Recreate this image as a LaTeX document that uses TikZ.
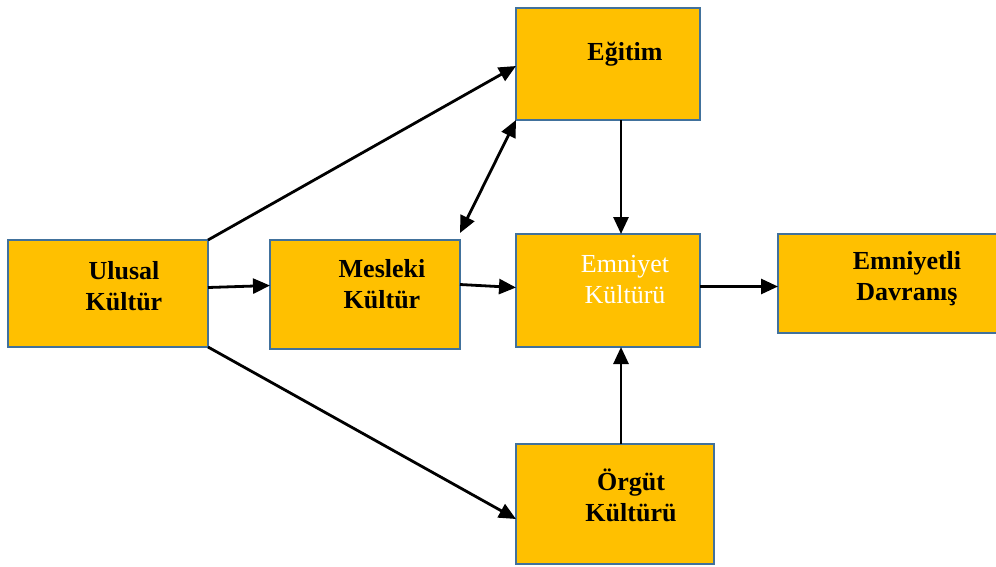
\documentclass[tikz,border=0pt]{standalone}
\usepackage{fontspec}
\setmainfont{Liberation Serif}
\usetikzlibrary{arrows.meta}
\definecolor{boxfill}{HTML}{FFC000}
\definecolor{boxedge}{HTML}{41719C}
\tikzset{
  box/.style={draw=boxedge, fill=boxfill, line width=2pt, rectangle,
    inner sep=0pt, outer sep=0pt, anchor=north west},
  lbl/.style={align=center, font=\fontsize{26}{31}\selectfont\bfseries, inner sep=0pt},
  lblw/.style={align=center, font=\fontsize{26}{31}\selectfont, text=white, inner sep=0pt},
  tip/.style={Triangle[length=17pt,width=15pt]},
  link/.style={line width=2.8pt, -{Triangle[length=17pt,width=15pt]}},
  link2/.style={line width=2.8pt, {Triangle[length=17pt,width=15pt]}-{Triangle[length=17pt,width=15pt]}}
}
\begin{document}
\begin{tikzpicture}[x=1pt, y=-1pt]
\useasboundingbox (0,0) rectangle (996,566);

% boxes
\node[box, minimum width=200pt, minimum height=107pt] (ulusal)   at (8,240)   {};
\node[box, minimum width=190pt, minimum height=109pt] (mesleki)  at (270,240) {};
\node[box, minimum width=184pt, minimum height=112pt] (egitim)   at (516,8)   {};
\node[box, minimum width=184pt, minimum height=113pt] (emniyet)  at (516,234) {};
\node[box, minimum width=222pt, minimum height=99pt]  (davranis) at (778,234) {};
\node[box, minimum width=198pt, minimum height=120pt] (orgut)    at (516,444) {};

% labels
\node[lbl]  (ulusalT)   at (124,286) {Ulusal\\Kültür};
\node[lbl]  (meslekiT)  at (382,284) {Mesleki\\Kültür};
\node[lbl]  (egitimT)   at (625,54)  {Eğitim};
\node[lblw] (emniyetT)  at (625,280) {Emniyet\\Kültürü};
\node[lbl]  (davranisT) at (907,279) {Emniyetli\\Davranış};
\node[lbl]  (orgutT)    at (631,495) {Örgüt\\Kültürü};

% connectors
\draw[link] (ulusal.north east) -- ([yshift=-2pt]egitim.west);
\draw[link] ([yshift=6pt]ulusal.east) -- ([yshift=9pt]mesleki.west);
\draw[link] (ulusal.south east) -- ([yshift=-15pt]orgut.west);
\draw[link2] ([yshift=7pt]mesleki.north east) -- (egitim.south west);
\draw[link] ([yshift=10pt]mesleki.east) -- ([yshift=3pt]emniyet.west);
\draw[link] ([xshift=13pt]egitim.south) -- ([xshift=13pt]emniyet.north);
\draw[link] ([xshift=6pt]orgut.north) -- ([xshift=13pt]emniyet.south);
\draw[link] ([yshift=4pt]emniyet.east) -- ([yshift=4pt]emniyet.east -| davranis.west);
\end{tikzpicture}
\end{document}
